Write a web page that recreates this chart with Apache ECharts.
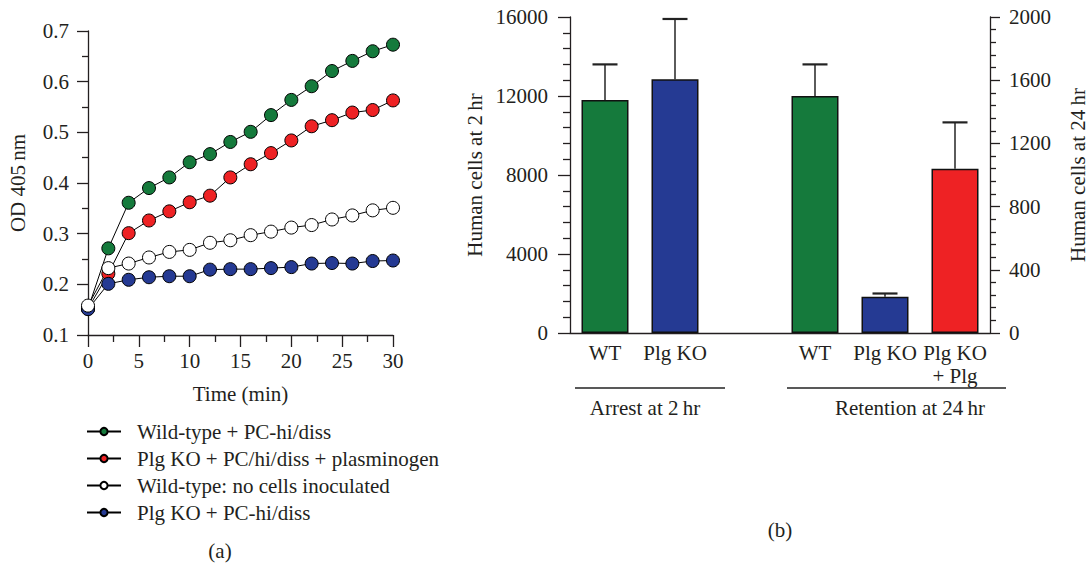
<!DOCTYPE html>
<html>
<head>
<meta charset="utf-8">
<script src="https://cdn.jsdelivr.net/npm/echarts@6/dist/echarts.min.js"></script>
<style>
html,body{margin:0;padding:0;background:#fff;}
#main{width:1089px;height:565px;}
</style>
</head>
<body>
<div id="main"></div>
<script>
// ---- Panel (a) data ----
const timeMin = [0,2,4,6,8,10,12,14,16,18,20,22,24,26,28,30];
const wtPC = [0.152,0.271,0.361,0.390,0.411,0.441,0.457,0.481,0.501,0.534,0.564,0.591,0.621,0.641,0.660,0.673];
const plgPCPlasminogen = [0.152,0.221,0.301,0.326,0.344,0.362,0.375,0.411,0.437,0.459,0.484,0.512,0.524,0.539,0.544,0.563];
const wtNoCells = [0.158,0.232,0.241,0.253,0.264,0.268,0.282,0.287,0.297,0.304,0.312,0.317,0.328,0.336,0.346,0.351];
const plgPC = [0.151,0.201,0.209,0.214,0.216,0.216,0.229,0.230,0.230,0.232,0.234,0.241,0.242,0.241,0.246,0.247];
const seriesNames = ['Wild-type + PC-hi/diss','Plg KO + PC/hi/diss + plasminogen','Wild-type: no cells inoculated','Plg KO + PC-hi/diss'];

// ---- Panel (b) data ----
const barCategories = ['WT','Plg KO','','WT','Plg KO','Plg KO\n+ Plg'];
const arrest2hr = [11800, 12850, '-', '-', '-', '-'];
const arrest2hrErrTop = [13600, 15900, '-', '-', '-', '-'];
const retention24hr = ['-', '-', '-', 1500, 230, 1040];
const retention24hrErrTop = ['-', '-', '-', 1700, 250, 1333];
const barColors = ['#157a3c','#253a93','#ffffff','#157a3c','#253a93','#ee2224'];
const groupLabels = ['Arrest at 2\u2009hr','Retention at 24\u2009hr'];

const FONT = '"Liberation Serif", "DejaVu Serif", serif';
const FS = 21;
const TXT = '#231f20';
const AX = '#231f20';

function pairs(ys){ return timeMin.map((t,i)=>[t, ys[i]]); }
function lineSeries(name, ys, fill){
  return {
    type:'line', name:name, data:pairs(ys), xAxisIndex:0, yAxisIndex:0,
    symbol:'circle', symbolSize:13,
    lineStyle:{color:'#000', width:1},
    itemStyle:{color:fill, borderColor:'#000', borderWidth:1},
    emphasis:{disabled:true}
  };
}
function errData(vals, tops){
  const out=[];
  vals.forEach((v,i)=>{ if(v!=='-') out.push([i, v, tops[i]]); });
  return out;
}
function errSeries(vals, tops, yIdx){
  return {
    type:'custom', xAxisIndex:1, yAxisIndex:yIdx, z:1,
    data: errData(vals, tops),
    renderItem: function(params, api){
      const x = api.value(0);
      const p0 = api.coord([x, api.value(1)]);
      const p1 = api.coord([x, api.value(2)]);
      const half = 12.5;
      return {type:'group', children:[
        {type:'line', shape:{x1:p0[0],y1:p0[1],x2:p1[0],y2:p1[1]}, style:{stroke:'#333',lineWidth:1.6}},
        {type:'line', shape:{x1:p1[0]-half,y1:p1[1],x2:p1[0]+half,y2:p1[1]}, style:{stroke:'#222',lineWidth:2.2}}
      ]};
    }
  };
}
const labelStyle = {color:TXT, fontFamily:FONT, fontSize:FS};
const plain = v => String(v);

const option = {
  animation:false,
  backgroundColor:'#fff',
  textStyle:{fontFamily:FONT},
  legend:{
    left:81, top:416, orient:'vertical', itemGap:6,
    itemWidth:34, itemHeight:9,
    data:[seriesNames[0],seriesNames[1],seriesNames[2],seriesNames[3]],
    textStyle:{color:TXT, fontFamily:FONT, fontSize:FS, padding:[0,0,0,11], lineHeight:21},
    selectedMode:false
  },
  grid:[
    {left:88, right:1089-393, top:31, bottom:565-335},
    {left:570, right:1089-993, top:17, bottom:565-333}
  ],
  xAxis:[
    {type:'value', gridIndex:0, min:0, max:30, interval:5,
     name:'Time (min)', nameLocation:'middle', nameGap:48,
     nameTextStyle:labelStyle,
     axisLine:{lineStyle:{color:AX, width:1.3}},
     axisTick:{length:12, lineStyle:{color:AX, width:1.3}},
     minorTick:{show:true, splitNumber:2, length:7, lineStyle:{color:AX, width:1.3}},
     axisLabel:Object.assign({margin:15}, labelStyle),
     splitLine:{show:false}},
    {type:'category', gridIndex:1, data:barCategories, boundaryGap:true,
     axisLine:{lineStyle:{color:AX, width:1.3}},
     axisTick:{show:false},
     axisLabel:Object.assign({margin:8, lineHeight:23, interval:0}, labelStyle)}
  ],
  yAxis:[
    {type:'value', gridIndex:0, min:0.1, max:0.7, interval:0.1,
     name:'OD 405\u2009nm', nameLocation:'middle', nameGap:60,
     nameTextStyle:labelStyle,
     axisLine:{show:true, lineStyle:{color:AX, width:1.3}},
     axisTick:{show:true, length:11, lineStyle:{color:AX, width:1.3}},
     minorTick:{show:true, splitNumber:2, length:6, lineStyle:{color:AX, width:1.3}},
     axisLabel:Object.assign({margin:19, formatter:v=>v.toFixed(1)}, labelStyle),
     splitLine:{show:false}},
    {type:'value', gridIndex:1, min:0, max:16000, interval:4000, position:'left',
     name:'Human cells at 2\u2009hr', nameLocation:'middle', nameGap:85,
     nameTextStyle:labelStyle,
     axisLine:{show:true, lineStyle:{color:AX, width:1.3}},
     axisTick:{show:true, length:12, lineStyle:{color:AX, width:1.3}},
     minorTick:{show:true, splitNumber:5, length:7, lineStyle:{color:AX, width:1.3}},
     axisLabel:Object.assign({margin:22, formatter:plain}, labelStyle),
     splitLine:{show:false}},
    {type:'value', gridIndex:1, min:0, max:2000, interval:400, position:'right',
     name:'Human cells at 24\u2009hr', nameLocation:'middle', nameGap:77,
     nameTextStyle:labelStyle,
     axisLine:{show:true, lineStyle:{color:AX, width:1.3}},
     axisTick:{show:true, length:10, lineStyle:{color:AX, width:1.3}},
     minorTick:{show:true, splitNumber:5, length:6, lineStyle:{color:AX, width:1.3}},
     axisLabel:Object.assign({margin:19, formatter:plain}, labelStyle),
     splitLine:{show:false}}
  ],
  series:[
    lineSeries(seriesNames[0], wtPC, '#157a3c'),
    lineSeries(seriesNames[1], plgPCPlasminogen, '#ee2224'),
    lineSeries(seriesNames[3], plgPC, '#253a93'),
    lineSeries(seriesNames[2], wtNoCells, '#ffffff'),
    errSeries(arrest2hr, arrest2hrErrTop, 1),
    errSeries(retention24hr, retention24hrErrTop, 2),
    {type:'bar', xAxisIndex:1, yAxisIndex:1, barWidth:47, barGap:'-100%', z:2,
     data: arrest2hr.map((v,i)=> v==='-' ? '-' : {value:v, itemStyle:{color:barColors[i]}}),
     itemStyle:{borderColor:'#111', borderWidth:1.5}},
    {type:'bar', xAxisIndex:1, yAxisIndex:2, barWidth:47, barGap:'-100%', z:2,
     data: retention24hr.map((v,i)=> v==='-' ? '-' : {value:v, itemStyle:{color:barColors[i]}}),
     itemStyle:{borderColor:'#111', borderWidth:1.5}}
  ]
};

const chart = echarts.init(document.getElementById('main'), null, {renderer:'svg'});
chart.setOption(option);

// group brackets under the category axis, positioned from the axis scale
const cx = i => chart.convertToPixel({xAxisIndex:1}, i);
const c0 = cx(0), c1 = cx(1), c3 = cx(3), c5 = cx(5);
const lineY = 388, textY = 408;
const txt = (x, y, s) => ({type:'text', x:x, y:y, style:{text:s, fill:TXT, font:FS+'px '+FONT, textAlign:'center', textVerticalAlign:'middle'}});
chart.setOption({graphic:[
  {type:'line', shape:{x1:c0-30, y1:lineY, x2:c1+50, y2:lineY}, style:{stroke:'#222', lineWidth:1.3}},
  {type:'line', shape:{x1:c3-28, y1:lineY, x2:c5+51, y2:lineY}, style:{stroke:'#222', lineWidth:1.3}},
  txt((c0+c1)/2+5, textY, groupLabels[0]),
  txt((c3+c5)/2+25, textY, groupLabels[1]),
  txt(220, 551, '(a)'),
  txt(780, 530, '(b)')
]});
</script>
</body>
</html>
